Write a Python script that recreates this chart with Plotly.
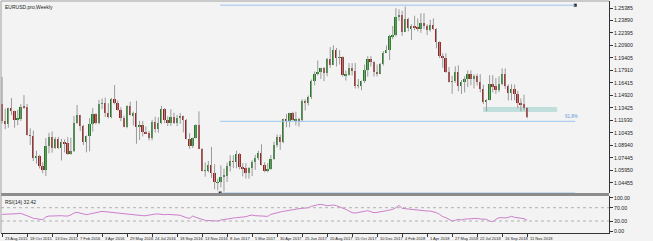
import plotly.graph_objects as go
import numpy as np

# ---------------- data (weekly EURUSD) ----------------
opens = [
1.1384,1.1183,1.1148,1.1338,1.1300,1.1199,1.1210,1.1358,1.1349,1.1017,1.1005,1.0742,1.0769,1.0646,1.0593,1.0885,1.0991,1.0866,1.0966,
1.0859,1.0929,1.0917,1.0795,1.0831,1.1157,1.1255,1.1130,1.0932,1.1003,1.1153,1.1268,1.1166,1.1393,1.1399,1.1282,1.1227,1.1454,1.1402,1.1312,1.1224,1.1117,1.1367,1.1254,1.1276,1.1117,1.1136,1.1054,1.1040,1.0978,1.1175,1.1086,1.1160,1.1323,1.1197,1.1155,1.1233,1.1155,1.1226,1.1241,1.1199,1.0971,1.0880,1.0983,1.1142,1.0853,1.0587,1.0588,1.0662,1.0556,1.0449,1.0453,
1.0517,1.0531,1.0645,1.0703,1.0694,1.0785,1.0639,1.0617,1.0560,1.0624,1.0699,1.0740,1.0800,1.0654,1.0591,1.0615,1.0727,1.0896,1.0998,1.0931,1.1206,1.1182,1.1281,1.1196,1.1196,1.1195,1.1424,1.1402,1.1470,1.1665,1.1750,1.1772,1.1819,1.1760,1.1924,1.1860,1.2035,1.1945,1.1951,1.1733,1.1734,1.1823,1.1784,1.1608,1.1608,1.1664,1.1792,1.1931,1.1893,1.1772,1.1751,1.1866,1.2005,
1.2031,1.2199,1.2221,1.2428,1.2459,1.2252,1.2407,1.2294,1.2317,1.2306,1.2288,1.2353,1.2322,1.2280,1.2331,1.2288,1.2130,1.1960,1.1940,1.1768,1.1655,1.1659,1.1769,1.1610,1.1655,1.1683,1.1747,1.1686,1.1719,1.1658,1.1566,1.1410,1.1437,1.1623,1.1600,1.1553,1.1625,1.1745,1.1605,1.1524,1.1563,1.1512,1.1402,1.1388,1.1336]
highs = [
1.1714,1.1332,1.1345,1.1460,1.1310,1.1318,1.1387,1.1495,1.1390,1.1096,1.1070,1.0828,1.0780,1.0690,1.0981,1.1043,1.1059,1.0993,1.0994,
1.0971,1.0963,1.0991,1.0985,1.1245,1.1376,1.1260,1.1140,1.1010,1.1218,1.1342,1.1278,1.1438,1.1454,1.1465,1.1398,1.1462,1.1616,1.1432,1.1349,1.1248,1.1374,1.1416,1.1297,1.1427,1.1186,1.1185,1.1120,1.1066,1.1198,1.1235,1.1228,1.1366,1.1340,1.1240,1.1327,1.1283,1.1258,1.1281,1.1250,1.1207,1.1038,1.0987,1.1145,1.1300,1.0860,1.0687,1.0706,1.0874,1.0668,1.0494,1.0653,
1.0615,1.0685,1.0775,1.0776,1.0829,1.0803,1.0680,1.0680,1.0632,1.0715,1.0780,1.0828,1.0906,1.0690,1.0680,1.0777,1.0937,1.1023,1.1022,1.1212,1.1268,1.1285,1.1296,1.1296,1.1222,1.1446,1.1446,1.1490,1.1682,1.1777,1.1910,1.1822,1.1830,1.1941,1.2070,1.2092,1.2059,1.2034,1.1960,1.1789,1.1880,1.1878,1.1880,1.1688,1.1669,1.1861,1.1961,1.1961,1.1900,1.1862,1.1880,1.2023,1.2089,
1.2219,1.2323,1.2537,1.2522,1.2507,1.2555,1.2420,1.2345,1.2446,1.2413,1.2475,1.2476,1.2345,1.2396,1.2414,1.2295,1.2140,1.1996,1.1996,1.1831,1.1727,1.1840,1.1852,1.1676,1.1720,1.1791,1.1791,1.1745,1.1750,1.1745,1.1620,1.1446,1.1733,1.1733,1.1700,1.1721,1.1815,1.1815,1.1624,1.1625,1.1621,1.1547,1.1455,1.1500,1.1350]
lows = [
1.1155,1.1087,1.1104,1.1255,1.1105,1.1135,1.1185,1.1330,1.1010,1.0897,1.0705,1.0674,1.0616,1.0558,1.0524,1.0796,1.0805,1.0849,1.0850,
1.0711,1.0808,1.0778,1.0780,1.0812,1.1150,1.1066,1.0897,1.0809,1.0821,1.1058,1.1143,1.1145,1.1327,1.1232,1.1216,1.1217,1.1384,1.1310,1.1183,1.1110,1.1097,1.1250,1.1131,1.0912,1.0957,1.1000,1.1030,1.0952,1.0953,1.1046,1.1045,1.1146,1.1159,1.1124,1.1126,1.1149,1.1123,1.1150,1.1049,1.0966,1.0851,1.0860,1.0975,1.0850,1.0580,1.0518,1.0569,1.0504,1.0367,1.0352,1.0389,
1.0340,1.0454,1.0580,1.0620,1.0618,1.0606,1.0521,1.0494,1.0493,1.0525,1.0600,1.0716,1.0650,1.0570,1.0570,1.0600,1.0720,1.0870,1.0839,1.0919,1.1110,1.1109,1.1190,1.1131,1.1118,1.1175,1.1312,1.1370,1.1449,1.1613,1.1731,1.1689,1.1662,1.1721,1.1823,1.1857,1.1838,1.1860,1.1717,1.1669,1.1730,1.1730,1.1574,1.1575,1.1553,1.1640,1.1716,1.1838,1.1717,1.1718,1.1745,1.1850,1.1997,
1.1915,1.2165,1.2198,1.2385,1.2206,1.2250,1.2259,1.2154,1.2272,1.2259,1.2240,1.2285,1.2215,1.2255,1.2274,1.2055,1.1939,1.1822,1.1763,1.1646,1.1510,1.1642,1.1541,1.1508,1.1527,1.1591,1.1613,1.1575,1.1610,1.1528,1.1388,1.1301,1.1430,1.1527,1.1510,1.1530,1.1612,1.1570,1.1432,1.1432,1.1433,1.1336,1.1302,1.1315,1.1216]
closes = [
1.1183,1.1148,1.1338,1.1300,1.1199,1.1210,1.1358,1.1349,1.1017,1.1005,1.0742,1.0769,1.0646,1.0593,1.0885,1.0991,1.0866,1.0966,1.0859,
1.0929,1.0917,1.0795,1.0831,1.1157,1.1255,1.1130,1.0932,1.1003,1.1153,1.1268,1.1166,1.1393,1.1399,1.1282,1.1227,1.1454,1.1402,1.1312,1.1224,1.1117,1.1367,1.1254,1.1276,1.1117,1.1136,1.1054,1.1040,1.0978,1.1175,1.1086,1.1160,1.1323,1.1197,1.1155,1.1233,1.1155,1.1226,1.1241,1.1199,1.0971,1.0880,1.0983,1.1142,1.0853,1.0587,1.0588,1.0662,1.0556,1.0449,1.0453,1.0517,
1.0531,1.0645,1.0703,1.0694,1.0785,1.0639,1.0617,1.0560,1.0624,1.0699,1.0740,1.0800,1.0654,1.0591,1.0615,1.0727,1.0896,1.0998,1.0931,1.1206,1.1182,1.1281,1.1196,1.1196,1.1195,1.1424,1.1402,1.1470,1.1665,1.1750,1.1772,1.1819,1.1760,1.1924,1.1860,1.2035,1.1945,1.1951,1.1733,1.1734,1.1823,1.1784,1.1608,1.1608,1.1664,1.1792,1.1931,1.1893,1.1772,1.1751,1.1866,1.2005,1.2031,
1.2199,1.2221,1.2428,1.2459,1.2252,1.2407,1.2294,1.2317,1.2306,1.2288,1.2353,1.2322,1.2280,1.2331,1.2288,1.2130,1.1960,1.1940,1.1768,1.1655,1.1659,1.1769,1.1610,1.1655,1.1683,1.1747,1.1686,1.1719,1.1658,1.1566,1.1410,1.1437,1.1623,1.1600,1.1553,1.1625,1.1745,1.1605,1.1524,1.1563,1.1512,1.1402,1.1388,1.1336,1.1230]

rsi = [
50,50,50,51,51,52,53,50,46,42,38,36,34,34,42,45,45,46,46,
46,45,45,48,54,56,53,51,49,51,53,56,58,59,58,57,55,54,53,52,50,50,49,49,47,45,46,46,48,50,51,51,49,49,50,50,49,48,47,43,40,38,45,41,37,35,32,31,30,29,30,33,
35,36,38,39,40,41,41,43,46,48,46,45,44,43,44,50,53,55,57,59,61,62,63,65,67,68,68,70,74,77,79,80,78,76,77,78,76,73,70,65,60,55,54,56,58,60,61,58,55,56,57,59,61,
63,65,70,77,68,67,64,63,62,61,61,61,60,60,58,55,50,43,40,36,30,32,35,33,36,36,37,38,38,36,35,35,30,28,35,40,40,39,41,44,41,40,38,37,32.42]

x_tick_labels = ["23 Aug 2015","18 Oct 2015","13 Dec 2015","7 Feb 2016","3 Apr 2016","29 May 2016",
                 "24 Jul 2016","18 Sep 2016","13 Nov 2016","8 Jan 2017","5 Mar 2017","30 Apr 2017",
                 "25 Jun 2017","20 Aug 2017","15 Oct 2017","10 Dec 2017","4 Feb 2018","1 Apr 2018",
                 "27 May 2018","22 Jul 2018","16 Sep 2018","11 Nov 2018"]
price_ticks = [1.04455,1.05950,1.07445,1.08940,1.10435,1.11930,1.13425,1.14920,
               1.16415,1.17910,1.19405,1.20900,1.22395,1.23890,1.25385]
rsi_ticks = [0, 30, 70, 100]
rsi_tick_labels = ["0.00", "30.00", "70.00", "100.00"]

fib_low, fib_high, fib_618 = 1.0322, 1.2572, 1.1181
zone_low, zone_high = 1.1293, 1.1353

assert len(opens) == len(highs) == len(lows) == len(closes) == len(rsi) == 169

# ---------------- figure ----------------
n = len(opens)
idx = np.arange(n)
o = np.array(opens); c = np.array(closes); h = np.array(highs); l = np.array(lows)

BULL = "#1a7f1a"
BEAR = "#a11e1e"
WICK = "#9a9a9a"
FIB = "#9cc3ea"
BG = "#f3f3f3"
FONT = "Liberation Sans, Arial, sans-serif"

fig = go.Figure()

wx, wy = [], []
for i in range(n):
    wx += [i, i, None]
    wy += [l[i], h[i], None]
fig.add_trace(go.Scatter(x=wx, y=wy, mode="lines", line=dict(color=WICK, width=1),
                         hoverinfo="skip", showlegend=False, xaxis="x", yaxis="y"))

body_base = np.minimum(o, c)
body_h = np.maximum(np.abs(c - o), 0.0004)
colors = [BULL if c[i] >= o[i] else BEAR for i in range(n)]
fig.add_trace(go.Bar(x=idx, y=body_h, base=body_base, width=0.62,
                     marker=dict(color=colors, line=dict(width=0)),
                     showlegend=False, xaxis="x", yaxis="y"))

fig.add_trace(go.Scatter(x=idx, y=rsi, mode="lines", line=dict(color="#cc7fcc", width=1),
                         showlegend=False, xaxis="x2", yaxis="y2"))

x_range = [-0.35, 194.2]
tickvals_x = list(range(0, 8 * len(x_tick_labels), 8))

main_dom = [(233 - 193) / 232, 1.0]
rsi_dom = [0.0, (233 - 196) / 232]

fig.update_layout(
    width=653, height=241,
    margin=dict(l=1, r=44, t=1, b=8, autoexpand=False),
    paper_bgcolor=BG, plot_bgcolor=BG,
    bargap=0, barmode="overlay",
    font=dict(family=FONT, size=6, color="#222222"),
    xaxis=dict(domain=[0, 1], range=x_range, showticklabels=False, showgrid=False,
               zeroline=False, showline=False, anchor="y", automargin=False),
    yaxis=dict(domain=main_dom, range=[1.03221, 1.26224], side="right",
               tickvals=price_ticks, ticktext=[f"{v:.5f}" for v in price_ticks],
               ticks="outside", ticklen=3, tickcolor="#333", showgrid=False, zeroline=False,
               showline=True, linecolor="#333", linewidth=1, anchor="x", automargin=False,
               tickfont=dict(size=5.2)),
    xaxis2=dict(domain=[0, 1], range=x_range, matches="x", anchor="y2",
                tickvals=tickvals_x, showticklabels=False, ticks="outside", ticklen=3,
                automargin=False, tickcolor="#333", showgrid=False,
                zeroline=False, showline=True, linecolor="#333", linewidth=1),
    yaxis2=dict(domain=rsi_dom, range=[-6, 105.1], side="right",
                tickvals=rsi_ticks, ticktext=rsi_tick_labels, ticks="outside", ticklen=3,
                tickcolor="#333", showgrid=False, zeroline=False, showline=True,
                linecolor="#333", linewidth=1, anchor="x2", automargin=False,
                tickfont=dict(size=5.2)),
    showlegend=False,
)

shapes = []
for lvl in (70, 30):
    shapes.append(dict(type="line", xref="x2 domain", yref="y2", x0=0, x1=1, y0=lvl, y1=lvl,
                       line=dict(color="#b0b0b0", width=1, dash="dot")))
shapes.append(dict(type="rect", xref="paper", yref="paper", x0=0, x1=1.0,
                   y0=rsi_dom[1], y1=main_dom[0], fillcolor="#8c8c8c", line=dict(width=0)))
shapes.append(dict(type="line", xref="paper", yref="paper", x0=0, x1=0, y0=0, y1=1,
                   line=dict(color="#a0a0a0", width=1)))
shapes.append(dict(type="line", xref="paper", yref="paper", x0=0, x1=1, y0=1, y1=1,
                   line=dict(color="#a0a0a0", width=1)))
fib_x0, fib_x1 = 69.8, 183.4
for lv in (fib_high, fib_618, fib_low):
    shapes.append(dict(type="line", xref="x", yref="y", x0=fib_x0, x1=fib_x1, y0=lv, y1=lv,
                       line=dict(color=FIB, width=1)))
shapes.append(dict(type="rect", xref="x", yref="y", x0=153.9, x1=177.6, y0=zone_low, y1=zone_high,
                   fillcolor="rgba(150,205,200,0.55)", line=dict(width=0), layer="below"))
fig.update_layout(shapes=shapes)

fig.add_trace(go.Scatter(x=[fib_x1, fib_x0], y=[fib_high, fib_low], mode="markers",
                         marker=dict(symbol="square", size=3, color="#222"),
                         showlegend=False, xaxis="x", yaxis="y"))

ann = [
    dict(text="EURUSD.pro,Weekly", xref="paper", yref="paper", x=0.004, y=0.995,
         xanchor="left", yanchor="top", showarrow=False, font=dict(size=5, color="#222")),
    dict(text="RSI(14) 32.42", xref="paper", yref="paper", x=0.004, y=rsi_dom[1] - 0.004,
         xanchor="left", yanchor="top", showarrow=False, font=dict(size=5, color="#222")),
    dict(text="61.8%", xref="x", yref="y", x=179.5, y=fib_618, xanchor="left", yanchor="bottom",
         showarrow=False, font=dict(size=4.5, color="#5a9ad8")),
    # small price-label boxes near the lower fibo line
    dict(text="0.00", xref="x", yref="y", x=156.5, y=fib_low, xanchor="left", yanchor="bottom",
         showarrow=False, font=dict(size=4, color="#f3f3f3"), bgcolor="#7f7f7f",
         borderpad=0.5),
    dict(text="1.0340", xref="x", yref="y", x=160.8, y=fib_low, xanchor="left", yanchor="bottom",
         showarrow=False, font=dict(size=4, color="#ffffff"), bgcolor="#6fb8b4",
         borderpad=0.5),
]
for tv, tl in zip(tickvals_x, x_tick_labels):
    ann.append(dict(text=tl, xref="x2", yref="paper", x=tv, y=-0.005, xanchor="left", yanchor="top",
                    xshift=1, showarrow=False, font=dict(size=4, color="#222")))
fig.update_layout(annotations=ann)

fig.write_html("out.html")
